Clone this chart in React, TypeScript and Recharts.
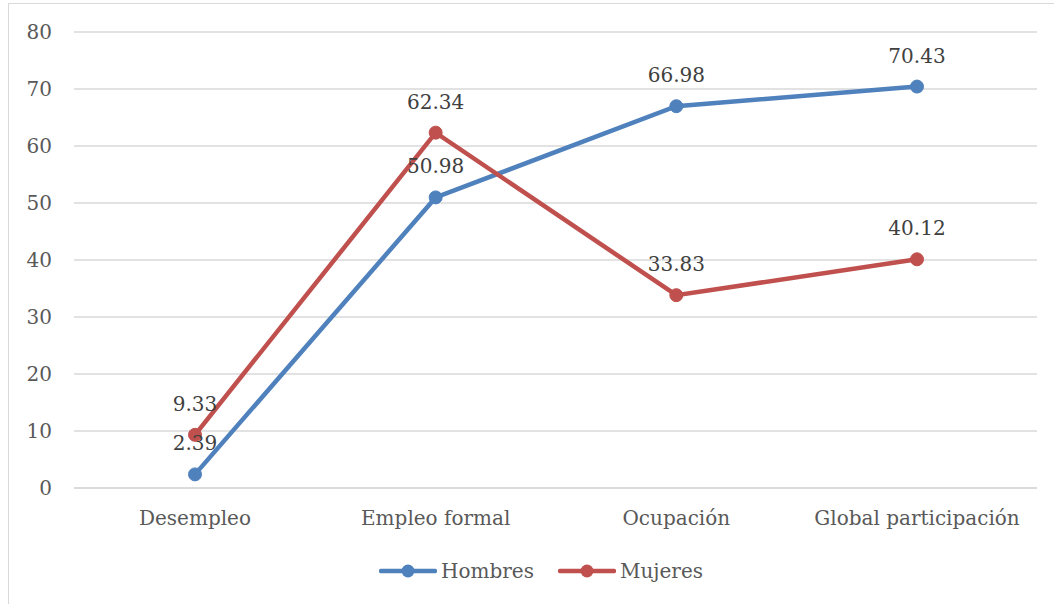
import { LineChart, Line, XAxis, YAxis, CartesianGrid, Legend, LabelList } from "recharts";

const categories = ["Desempleo", "Empleo formal", "Ocupación", "Global participación"];
const hombres = [2.39, 50.98, 66.98, 70.43];
const mujeres = [9.33, 62.34, 33.83, 40.12];
const yTicks = [0, 10, 20, 30, 40, 50, 60, 70, 80];

const data = categories.map((name, i) => ({
  name,
  Hombres: hombres[i],
  Mujeres: mujeres[i],
}));

const FONT = "'DejaVu Serif', serif";
const BLUE = "#4F81BD";
const RED = "#C0504D";

const renderLabel = (props: any) => {
  const { x, y, value } = props;
  return (
    <text x={x} y={y - 24} textAnchor="middle" fill="#404040" fontSize={20} fontFamily={FONT}>
      {Number(value).toFixed(2)}
    </text>
  );
};

const LegendContent = () => {
  const items = [
    { name: "Hombres", color: BLUE },
    { name: "Mujeres", color: RED },
  ];
  return (
    <div style={{ display: "flex", justifyContent: "center", alignItems: "center", height: 24, gap: 24, paddingLeft: 36, fontFamily: FONT, fontSize: 20, color: "#595959" }}>
      {items.map((it) => (
        <div key={it.name} style={{ display: "flex", alignItems: "center" }}>
          <svg width={58} height={16} style={{ marginRight: 4 }}>
            <line x1={2} y1={8} x2={56} y2={8} stroke={it.color} strokeWidth={4.5} strokeLinecap="round" />
            <circle cx={29} cy={8} r={6.5} fill={it.color} />
          </svg>
          <span>{it.name}</span>
        </div>
      ))}
    </div>
  );
};

export default function App() {
  return (
    <div style={{ position: "fixed", left: 0, top: 0, width: 1054, height: 604, overflow: "hidden", background: "#fff" }}>
      <div style={{ position: "absolute", left: 8, top: 3, width: 1060, height: 620, border: "1px solid #d9d9d9" }}>
        <LineChart width={1046} height={598} data={data} margin={{ top: 28, right: 18, bottom: 19, left: 0 }}>
          <CartesianGrid vertical={false} stroke="#d9d9d9" strokeWidth={1.5} />
          <XAxis
            dataKey="name"
            padding={{ left: 121, right: 120 }}
            axisLine={{ stroke: "#d9d9d9", strokeWidth: 1.5 }}
            tickLine={false}
            tickMargin={17}
            height={71}
            tick={{ fontSize: 20, fill: "#595959", fontFamily: FONT }}
          />
          <YAxis
            domain={[0, 80]}
            ticks={yTicks}
            width={65}
            axisLine={false}
            tickLine={false}
            tickMargin={16}
            tick={{ fontSize: 20, fill: "#595959", fontFamily: FONT }}
          />
          <Legend verticalAlign="bottom" height={24} content={() => <LegendContent />} />
          <Line
            dataKey="Hombres"
            stroke={BLUE}
            strokeWidth={4.5}
            dot={{ r: 6.5, fill: BLUE, stroke: BLUE, strokeWidth: 1 }}
            isAnimationActive={false}
          >
            <LabelList dataKey="Hombres" content={renderLabel} />
          </Line>
          <Line
            dataKey="Mujeres"
            stroke={RED}
            strokeWidth={4.5}
            dot={{ r: 6.5, fill: RED, stroke: RED, strokeWidth: 1 }}
            isAnimationActive={false}
          >
            <LabelList dataKey="Mujeres" content={renderLabel} />
          </Line>
        </LineChart>
      </div>
    </div>
  );
}
